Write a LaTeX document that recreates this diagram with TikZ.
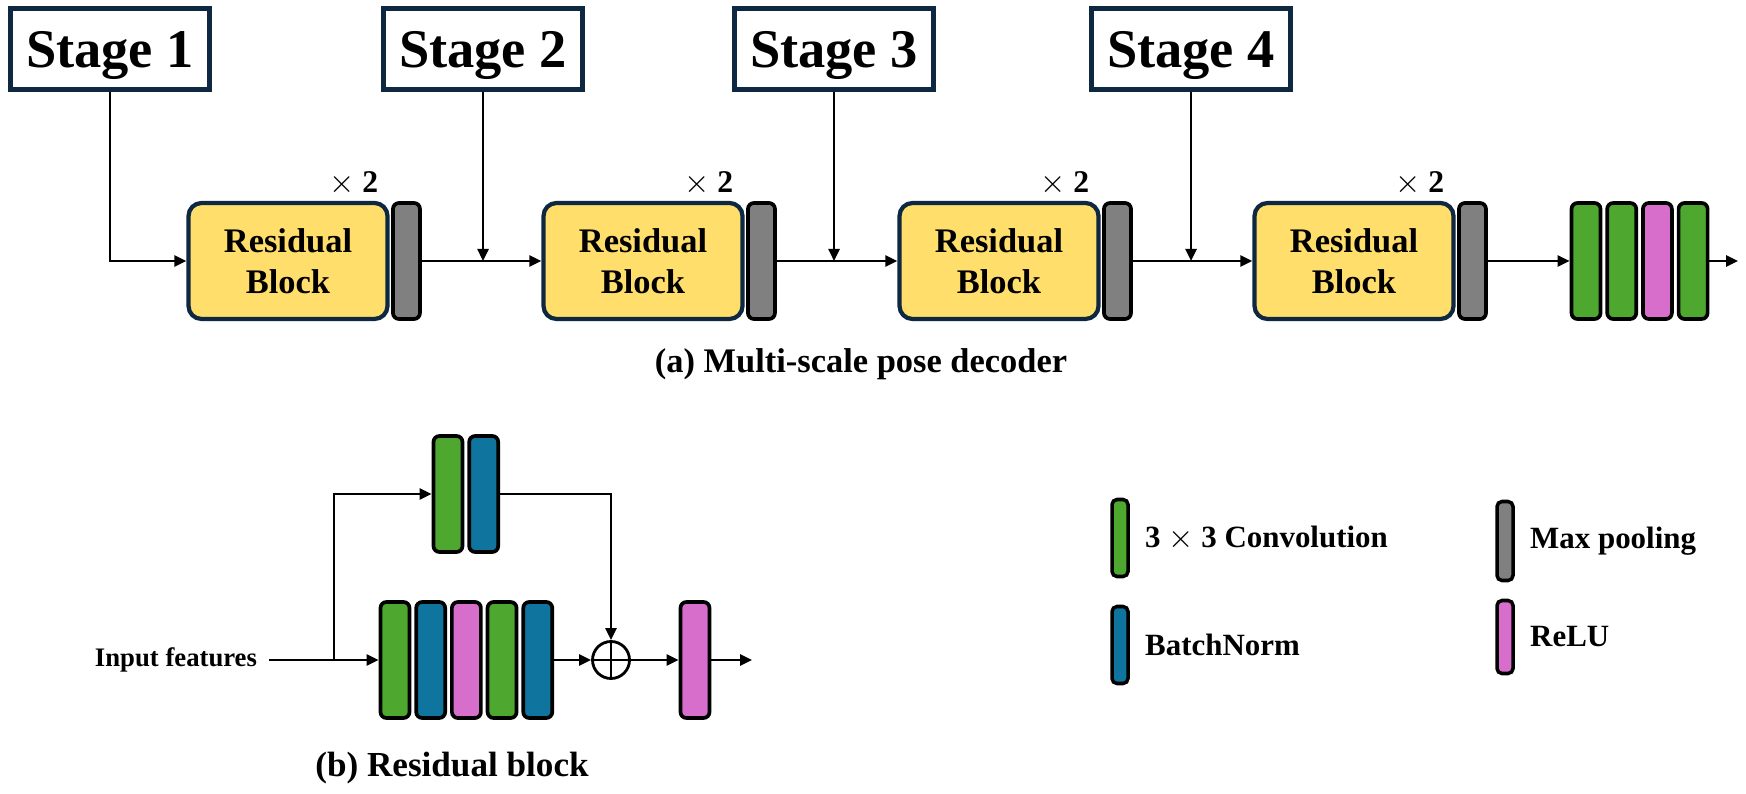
\documentclass[tikz,border=0pt]{standalone}
\usepackage{fontspec}
\setmainfont{Liberation Serif}
\usepackage{xcolor}
\usetikzlibrary{arrows.meta, positioning, calc}
\definecolor{blockyellow}{RGB}{255,222,107}
\definecolor{convgreen}{RGB}{78,167,46}
\definecolor{normblue}{RGB}{15,117,159}
\definecolor{relupink}{RGB}{216,110,204}
\definecolor{poolgray}{RGB}{128,128,128}
\definecolor{darknavy}{RGB}{14,40,65}

\begin{document}
\begin{tikzpicture}[x=0.1mm, y=-0.1mm,
          stageNode/.style={rectangle, draw=darknavy, fill=white, line width=1.3pt, minimum width=19.9mm, minimum height=8.1mm, text depth=0pt, font=\fontsize{15.5}{18}\selectfont\bfseries},
          resNode/.style={rectangle, draw=darknavy, fill=blockyellow, line width=1.2pt, rounded corners=1.3mm, minimum width=19.9mm, minimum height=11.6mm, align=center, font=\fontsize{9.8}{11.7}\selectfont\bfseries},
          layer/.style={rectangle, draw=black, line width=1.05pt, rounded corners=0.6mm, minimum width=2.9mm, minimum height=11.6mm, inner sep=0pt},
          legendBar/.style={rectangle, draw=black, line width=1pt, rounded corners=0.5mm, minimum width=1.6mm, minimum height=7.7mm, inner sep=0pt},
          legendText/.style={font=\fontsize{8.8}{10}\selectfont\bfseries, right=0.3mm of #1},
          repeatNode/.style={font=\fontsize{9}{10}\selectfont\bfseries},
          captionNode/.style={font=\fontsize{9.8}{12}\selectfont\bfseries},
          flow/.style={-{Triangle[length=1.2mm, width=1.1mm]}, line width=0.7pt, draw=black}
        ]
          \useasboundingbox (0,0) rectangle (1746,794);

          % (a) decoder
          \node[stageNode] (st1) at (110, 49) {Stage 1};
          \node[stageNode] (st2) at (483, 49) {Stage 2};
          \node[stageNode] (st3) at (834, 49) {Stage 3};
          \node[stageNode] (st4) at (1191, 49) {Stage 4};

          \node[resNode] (b1) at (288, 261) {Residual\\Block};
          \node[resNode] (b2) at (643, 261) {Residual\\Block};
          \node[resNode] (b3) at (999, 261) {Residual\\Block};
          \node[resNode] (b4) at (1354, 261) {Residual\\Block};

          \node[layer, fill=poolgray, minimum width=2.7mm, right=0.15mm of b1] (p1) {};
          \node[layer, fill=poolgray, minimum width=2.7mm, right=0.15mm of b2] (p2) {};
          \node[layer, fill=poolgray, minimum width=2.7mm, right=0.15mm of b3] (p3) {};
          \node[layer, fill=poolgray, minimum width=2.7mm, right=0.15mm of b4] (p4) {};

          \node[repeatNode] (x1) at ($(b1.north east)+(-36,-17)$) {$\times$ 2};
          \node[repeatNode] (x2) at ($(b2.north east)+(-36,-17)$) {$\times$ 2};
          \node[repeatNode] (x3) at ($(b3.north east)+(-36,-17)$) {$\times$ 2};
          \node[repeatNode] (x4) at ($(b4.north east)+(-36,-17)$) {$\times$ 2};

          \node[layer, fill=convgreen] (f1) at (1586, 261) {};
          \node[layer, fill=convgreen, right=0.3mm of f1] (f2) {};
          \node[layer, fill=relupink, right=0.3mm of f2] (f3) {};
          \node[layer, fill=convgreen, right=0.3mm of f3] (f4) {};
          \coordinate (outA) at (1738, 261);

          \draw[flow] (st1.south) |- (b1.west);
          \draw[flow] (p1.east) -- (b2.west);
          \draw[flow] (p2.east) -- (b3.west);
          \draw[flow] (p3.east) -- (b4.west);
          \draw[flow] (p4.east) -- (f1.west);
          \draw[flow] (f4.east) -- (outA);
          \draw[flow] (st2.south) -- (st2.south |- p1.east);
          \draw[flow] (st3.south) -- (st3.south |- p2.east);
          \draw[flow] (st4.south) -- (st4.south |- p3.east);

          \node[captionNode] (capA) at (861, 364) {(a) Multi-scale pose decoder};

          % (b) residual block
          \node[font=\fontsize{7.6}{9}\selectfont\bfseries] (inp) at (176, 660) {Input features};
          \coordinate (split) at (334, 660);

          \node[layer, fill=convgreen] (u1) at (448, 494) {};
          \node[layer, fill=normblue, right=0.3mm of u1] (u2) {};

          \node[layer, fill=convgreen] (r1) at (395, 660) {};
          \node[layer, fill=normblue, right=0.3mm of r1] (r2) {};
          \node[layer, fill=relupink, right=0.3mm of r2] (r3) {};
          \node[layer, fill=convgreen, right=0.3mm of r3] (r4) {};
          \node[layer, fill=normblue, right=0.3mm of r4] (r5) {};

          \node[circle, draw=black, line width=0.8pt, minimum size=3.7mm, inner sep=0pt,
                path picture={\draw[line width=0.8pt] (path picture bounding box.north) -- (path picture bounding box.south)
                                                    (path picture bounding box.west) -- (path picture bounding box.east);}] (plus) at (611, 660) {};
          \node[layer, fill=relupink] (relu) at (695, 660) {};
          \coordinate (outB) at (752, 660);

          \draw[flow] (inp.east) -- (r1.west);
          \draw[flow] (split) |- (u1.west);
          \draw[flow] (u2.east) -| (plus.north);
          \draw[flow] (r5.east) -- (plus.west);
          \draw[flow] (plus.east) -- (relu.west);
          \draw[flow] (relu.east) -- (outB);

          \node[captionNode, font=\fontsize{10}{12}\selectfont\bfseries] (capB) at (452, 768) {(b) Residual block};

          % legend
          \node[legendBar, fill=convgreen] (lg1) at (1120, 538) {};
          \node[legendBar, fill=normblue] (lg2) at (1120, 645) {};
          \node[legendBar, fill=poolgray, minimum height=7.9mm] (lg3) at (1505, 541) {};
          \node[legendBar, fill=relupink, minimum height=7.3mm] (lg4) at (1505, 637) {};
          \node[legendText=lg1] (lt1) {3 $\times$ 3 Convolution};
          \node[legendText=lg2] (lt2) {BatchNorm};
          \node[legendText=lg3] (lt3) {Max pooling};
          \node[legendText=lg4] (lt4) {ReLU};
        \end{tikzpicture}
\end{document}
